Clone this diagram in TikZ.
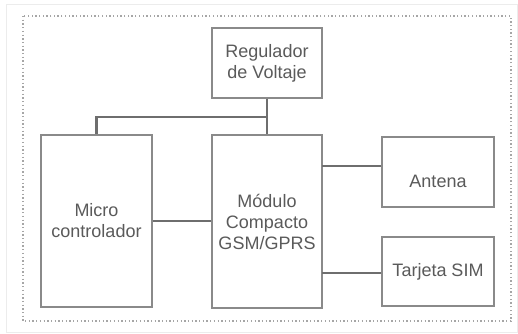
\documentclass[tikz,border=0pt]{standalone}
\usepackage{fontspec}
\setmainfont{Liberation Sans}
\definecolor{txt}{HTML}{5A5A5A}
\definecolor{boxc}{HTML}{8A8A8A}
\definecolor{wire}{HTML}{6E6E6E}
\begin{document}
\begin{tikzpicture}[x=1pt,y=-1pt,
  blk/.style={draw=boxc,line width=1.4pt,fill=white,inner sep=0pt,align=center,
    font=\fontsize{18}{21}\selectfont,text=txt},
  wirel/.style={draw=wire,line width=2.4pt},
  lbl/.style={font=\fontsize{18}{21}\selectfont,text=txt,align=center,inner sep=0pt}]
\useasboundingbox (0,0) rectangle (518,333);
\fill[white] (0,0) rectangle (518,333);
\draw[gray!15,line width=1pt] (6,4) rectangle (517,332);
\draw[gray!70,line width=1.3pt,dash pattern=on 1.3pt off 2.4pt] (23,16) rectangle (511,321);
% blocks
\node[blk,minimum width=110pt,minimum height=70pt] (reg) at (267,63) {Regulador\\de Voltaje};
\node[blk,minimum width=111pt,minimum height=172pt] (mic) at (96.5,221) {Micro\\controlador};
\node[blk,minimum width=110pt,minimum height=173pt] (mod) at (267,221.5) {Módulo\\Compacto\\GSM/GPRS};
\node[blk,minimum width=112pt,minimum height=70pt] (ant) at (438,172) {};
\node[lbl] (antt) at (438,181) {Antena};
\node[blk,minimum width=112pt,minimum height=69pt] (sim) at (438,271.5) {Tarjeta SIM};
% connectors
\coordinate (j) at (267,117);
\draw[wirel] (reg.south) -- (mod.north);
\draw[wirel] (j) -| (mic.north);
\draw[wirel] (mic.east) -- (mic.east -| mod.west);
\coordinate (a1) at (322,166);
\draw[wirel] (a1) -- (a1 -| ant.west);
\coordinate (s1) at (322,273);
\draw[wirel] (s1) -- (s1 -| sim.west);
\end{tikzpicture}
\end{document}
